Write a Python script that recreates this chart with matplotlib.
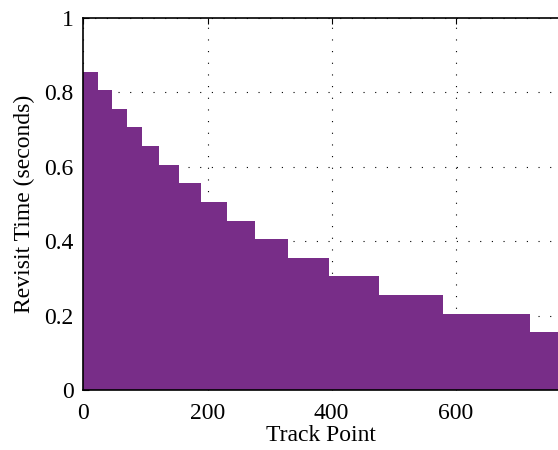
import numpy as np
import matplotlib.pyplot as plt

plt.rcParams['font.family'] = ['Liberation Serif', 'DejaVu Serif']

# step edges (track point) and revisit time on each step
edges = [0, 23, 46, 70, 94, 122, 154, 189, 231, 276, 330, 396, 476, 580, 720, 770]
revisit = [0.855, 0.805, 0.755, 0.705, 0.655, 0.605, 0.555, 0.505, 0.455,
           0.405, 0.355, 0.305, 0.255, 0.205, 0.155]

x = np.array(edges)
y = np.array(revisit + [revisit[-1]])

fig = plt.figure(figsize=(5.58, 4.5), dpi=100)
ax = fig.add_axes([0.1496, 0.1333, 0.8504, 0.8278])

ax.fill_between(x, 0, y, step='post', color='#782D88', linewidth=0, zorder=2)

ax.set_xlim(0, 765)
ax.set_ylim(0, 1)
ax.set_xticks([0, 200, 400, 600])
ax.set_yticks([0, 0.2, 0.4, 0.6, 0.8, 1])
ax.set_yticklabels(['0', '0.2', '0.4', '0.6', '0.8', '1'])
ax.tick_params(direction='in', length=4, width=0.8, labelsize=17, top=True, right=False)
ax.tick_params(axis='x', pad=9)
ax.tick_params(axis='y', pad=7)

ax.grid(True, color='black', linestyle=(0, (1, 9.5)), linewidth=0.8, zorder=1)
ax.set_axisbelow(True)
ax.spines['right'].set_visible(False)
for s in ['left', 'top', 'bottom']:
    ax.spines[s].set_linewidth(1.2)
    ax.spines[s].set_zorder(3)

ax.set_xlabel('Track Point', fontsize=17, labelpad=1)
ax.set_ylabel('Revisit Time (seconds)', fontsize=17, labelpad=7)

fig.savefig('out.png', dpi=100)
